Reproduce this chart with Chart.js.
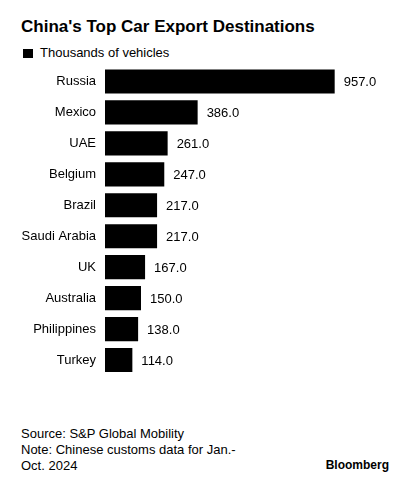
<!DOCTYPE html>
<html>
<head>
<meta charset="utf-8">
<script src="https://cdn.jsdelivr.net/npm/chart.js@4"></script>
<style>
  html, body { margin: 0; padding: 0; background: #fff; }
  body { width: 415px; height: 500px; position: relative; overflow: hidden;
         font-family: "Liberation Sans", Arial, sans-serif; color: #000; }
  .title { position: absolute; left: 21px; top: 17px; font-size: 17px; line-height: 20px; font-weight: bold; }
  .legend { position: absolute; left: 23px; top: 45px; font-size: 13px; line-height: 16px; }
  .legend .box { display: inline-block; width: 10px; height: 9px; background: #000; margin-right: 7px; vertical-align: -1px; }
  .footer { position: absolute; left: 21px; top: 426px; font-size: 13px; line-height: 16px; }
  .brand { position: absolute; right: 26px; top: 457px; font-size: 12px; line-height: 16px; font-weight: bold; }
  #chart { position: absolute; left: 0; top: 56px; }
</style>
</head>
<body>
<div class="title">China's Top Car Export Destinations</div>
<div class="legend" id="legend"></div>
<canvas id="chart" width="415" height="330"></canvas>
<div class="footer">Source: S&amp;P Global Mobility<br>Note: Chinese customs data for Jan.-<br>Oct. 2024</div>
<div class="brand">Bloomberg</div>
<script>
const countries = ["Russia", "Mexico", "UAE", "Belgium", "Brazil", "Saudi Arabia", "UK", "Australia", "Philippines", "Turkey"];
const exports = [957, 386, 261, 247, 217, 217, 167, 150, 138, 114];
const seriesLabel = "Thousands of vehicles";

const fontFamily = '"Liberation Sans", Arial, sans-serif';

document.getElementById("legend").innerHTML =
  '<span class="box"></span>' + seriesLabel;

// draws "957.0" etc. just past the end of each bar
const valueLabels = {
  id: "valueLabels",
  afterDatasetsDraw(chart) {
    const ctx = chart.ctx;
    const meta = chart.getDatasetMeta(0);
    ctx.save();
    ctx.font = "13px " + fontFamily;
    ctx.fillStyle = "#000";
    ctx.textAlign = "left";
    ctx.textBaseline = "middle";
    meta.data.forEach((bar, i) => {
      ctx.fillText(exports[i].toFixed(1), bar.x + 9, bar.y + 1);
    });
    ctx.restore();
  },
};

new Chart(document.getElementById("chart"), {
  type: "bar",
  data: {
    labels: countries,
    datasets: [
      {
        label: seriesLabel,
        data: exports,
        backgroundColor: "#000",
        borderWidth: 0,
        barPercentage: 0.78,
        categoryPercentage: 1,
      },
    ],
  },
  options: {
    indexAxis: "y",
    responsive: false,
    animation: false,
    layout: { padding: { top: 10, bottom: 10.5, left: 0, right: 22 } },
    plugins: {
      legend: { display: false },
      tooltip: { enabled: false },
    },
    scales: {
      x: { display: false, min: 0, max: 1200 },
      y: {
        // tickLength keeps the labels 9px off the bars without adding vertical padding
        grid: { display: false, drawTicks: true, tickLength: 9 },
        border: { display: false },
        ticks: {
          color: "#000",
          padding: 0,
          font: { family: fontFamily, size: 13 },
        },
        afterFit(scale) {
          scale.width = 105;
        },
      },
    },
  },
  plugins: [valueLabels],
});
</script>
</body>
</html>
